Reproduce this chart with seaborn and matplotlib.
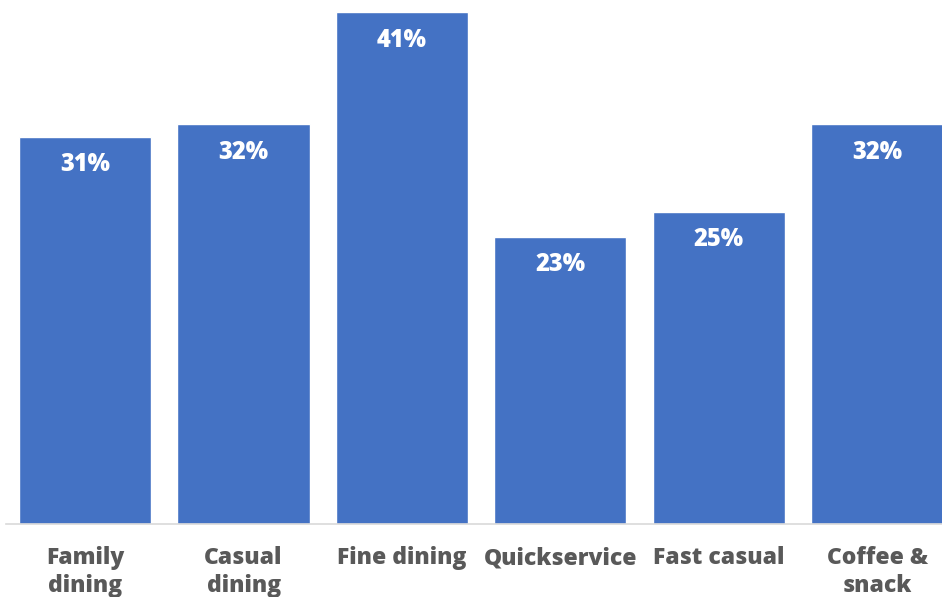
import matplotlib
matplotlib.use("Agg")
import matplotlib.pyplot as plt
import seaborn as sns
import pandas as pd

categories = ["Family\ndining", "Casual\ndining", "Fine dining", "Quickservice", "Fast casual", "Coffee &\nsnack"]
values = [31, 32, 41, 23, 25, 32]

sns.set_theme(style="white")
plt.rcParams['font.family'] = ['Open Sans', 'DejaVu Sans']

df = pd.DataFrame({"segment": categories, "share": values})

fig = plt.figure(figsize=(9.42, 5.97), dpi=100)
ax = fig.add_axes([6 / 942, 73 / 597, 936 / 942, 524 / 597])

sns.barplot(data=df, x="segment", y="share", color="#4472C4", saturation=1,
            width=0.835, ax=ax)

for i, v in enumerate(values):
    ax.text(i, v - 2.25, f"{v}%", ha="center", va="center", color="white",
            fontsize=17, fontweight="heavy")

ax.set_xlim(-0.5, 5.41)
ax.set_ylim(0, 41.96)
ax.set_xlabel("")
ax.set_ylabel("")
ax.set_yticks([])
ax.tick_params(axis="x", length=0, pad=16)
for lbl in ax.get_xticklabels():
    lbl.set_fontsize(16.5)
    lbl.set_fontweight("heavy")
    lbl.set_color("#595959")
    lbl.set_linespacing(1.2)
for s in ["top", "right", "left"]:
    ax.spines[s].set_visible(False)
ax.spines["bottom"].set_color("#D9D9D9")
ax.spines["bottom"].set_linewidth(1.2)

fig.savefig("out.png", dpi=100)
